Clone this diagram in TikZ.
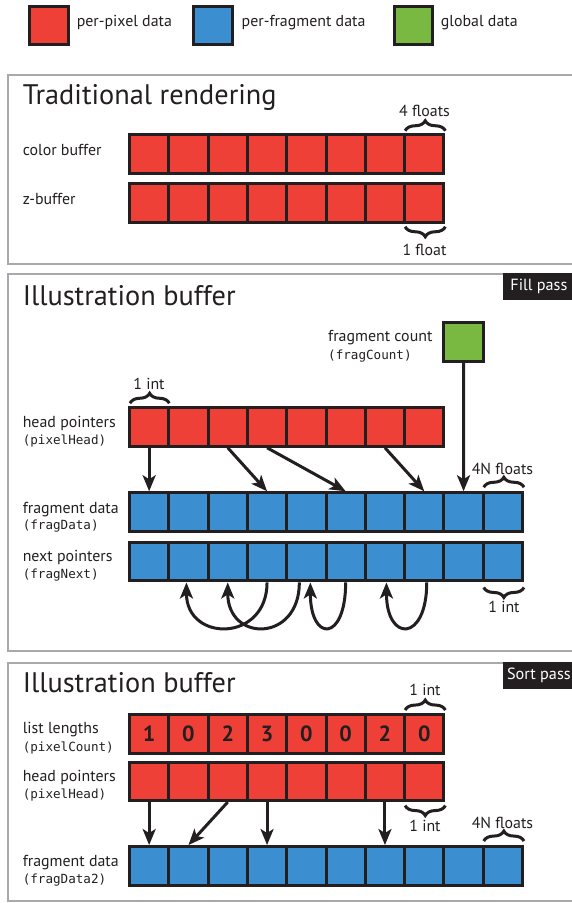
\documentclass[tikz,border=0pt]{standalone}
\usepackage{fontspec}
\setmainfont{PT Sans}
\setmonofont{DejaVu Sans Mono}
\usetikzlibrary{arrows.meta,decorations.pathreplacing,calc}
\definecolor{pxred}{HTML}{EE4036}
\definecolor{frblue}{HTML}{3B8FD0}
\definecolor{glgreen}{HTML}{7AB941}
\definecolor{ink}{HTML}{231F20}
\definecolor{framegray}{HTML}{A7A9AC}
\begin{document}
\begin{tikzpicture}[x=1pt,y=-1pt,
  cell/.style={draw=ink, line width=3pt, minimum width=39.3pt, minimum height=38.5pt, inner sep=0pt},
  pxcell/.style={cell, fill=pxred},
  frcell/.style={cell, fill=frblue},
  lbl/.style={anchor=base west, inner sep=0pt, text=ink, font=\fontsize{15.9}{18}\selectfont},
  code/.style={anchor=base west, inner sep=0pt, text=ink, font=\fontsize{12.6}{15}\selectfont\ttfamily},
  titletext/.style={anchor=base west, inner sep=0pt, text=ink, font=\fontsize{28.3}{32}\selectfont},
  note/.style={anchor=base, inner sep=0pt, text=ink, font=\fontsize{15.9}{18}\selectfont},
  ptr/.style={line width=3pt, draw=ink, -{Stealth[length=16pt,width=13pt,inset=4pt]}},
  brc/.style={draw=ink, line width=3pt, decorate, decoration={brace, amplitude=10pt}},
  frame/.style={draw=framegray, line width=2.5pt},
  passlabel/.style={fill=ink, text=white, anchor=north west, minimum width=72pt, minimum height=26.5pt, inner sep=0pt, font=\fontsize{16.2}{18}\selectfont},
]
\useasboundingbox (0,0) rectangle (572,903);
\clip (0,0) rectangle (572,903);

% legend
\node[pxcell, minimum width=38.5pt] (legred) at (49.2,25.5) {};
\node[lbl] (legredt) at (76.6,26.5) {per-pixel data};
\node[frcell, minimum width=38.5pt] (legblue) at (213,25.5) {};
\node[lbl] (legbluet) at (241.5,26.5) {per-fragment data};
\node[cell, fill=glgreen, minimum width=38.5pt] (leggreen) at (413.7,25.5) {};
\node[lbl] (leggreent) at (440.7,26.5) {global data};

% ---------- Section 1 ----------
\draw[frame] (7.8,75) rectangle (600,264);
\node[titletext] (t1) at (22.6,104) {Traditional rendering};
\foreach \i in {0,...,7} {
  \node[pxcell] (cb\i) at ({149.15+39.3*\i},154) {};
  \node[pxcell] (zb\i) at ({149.15+39.3*\i},203) {};
}
\node[lbl] (cbl) at (22.6,155) {color buffer};
\node[lbl] (zbl) at (22.6,204) {z-buffer};
\draw[brc] ($(cb7.north west)+(2,-2.5)$) -- ($(cb7.north east)+(0,-2.5)$);
\node[note] (fourf) at (424.5,116.7) {4 floats};
\draw[brc] ($(zb7.south east)+(0,3)$) -- ($(zb7.south west)+(2,3)$);
\node[note] (onef) at (424.5,255) {1 float};

% ---------- Section 2 ----------
\draw[frame] (7.8,274) rectangle (600,651);
\node[passlabel] (fillpass) at (502.7,272.8) {Fill pass};
\node[titletext] (t2) at (22.6,305) {Illustration buffer};

\node[cell, fill=glgreen] (fc) at (463.5,342) {};
\node[lbl] (fct) at (328,341) {fragment count};
\node[code] (fcc) at (328,359) {(fragCount)};

\foreach \i in {0,...,7} \node[pxcell] (hp\i) at ({149.15+39.3*\i},427) {};
\foreach \i in {0,...,9} {
  \node[frcell] (fd\i) at ({149.15+39.3*\i},512) {};
  \node[frcell] (fn\i) at ({149.15+39.3*\i},561.7) {};
}
\node[lbl] (hpl) at (22.6,427) {head pointers};
\node[code] (hpc) at (22.6,444) {(pixelHead)};
\node[lbl] (fdl) at (22.6,513) {fragment data};
\node[code] (fdc) at (22.6,529.5) {(fragData)};
\node[lbl] (fnl) at (22.6,561) {next pointers};
\node[code] (fnc) at (22.6,578) {(fragNext)};

\draw[brc] ($(hp0.north west)+(2,-3)$) -- ($(hp0.north east)+(-1,-3)$);
\node[note] (oneint1) at (149,389.3) {1 int};
\draw[brc] ($(fd9.north west)+(2,-4)$) -- ($(fd9.north east)+(0,-4)$);
\node[note] (fourn1) at (502.5,474) {4N floats};
\draw[brc] ($(fn9.south east)+(0,5)$) -- ($(fn9.south west)+(2,5)$);
\node[note] (oneint2) at (504,612.7) {1 int};

\draw[ptr] (hp0.south) -- (fd0.north);
\draw[ptr] (hp2.south) -- (fd3.north);
\draw[ptr] (hp3.south) -- (fd5.north);
\draw[ptr] (hp6.south) -- (fd7.north);
\draw[ptr] (fc.south) -- (fd8.north);

\draw[ptr] (fn3.south) .. controls +(0,60) and +(0,60) .. ([xshift=-2pt]fn1.south);
\draw[ptr] ([xshift=-7pt]fn4.south) .. controls +(0,60) and +(0,60) .. (fn2.south);
\draw[ptr] (fn5.south) .. controls +(0,60) and +(0,60) .. ([xshift=4pt]fn4.south);
\draw[ptr] ([xshift=2.5pt]fn7.south) .. controls +(0,60) and +(0,60) .. ([xshift=1.5pt]fn6.south);

% ---------- Section 3 ----------
\draw[frame] (7.8,663) rectangle (600,901);
\node[passlabel] (sortpass) at (502.7,662) {Sort pass};
\node[titletext] (t3) at (22.6,692.3) {Illustration buffer};

\foreach \i/\n in {0/1,1/0,2/2,3/3,4/0,5/0,6/2,7/0} {
  \node[pxcell, text=ink, font=\fontsize{22}{24}\selectfont\bfseries] (ll\i) at ({149.15+39.3*\i},733.8) {\n};
  \node[pxcell] (sh\i) at ({149.15+39.3*\i},781.3) {};
}
\foreach \i in {0,...,9} \node[frcell] (fe\i) at ({149.15+39.3*\i},865.8) {};

\node[lbl] (lll) at (22.6,733.5) {list lengths};
\node[code] (llc) at (22.6,751) {(pixelCount)};
\node[lbl] (shl) at (22.6,781) {head pointers};
\node[code] (shc) at (22.6,798) {(pixelHead)};
\node[lbl] (fel) at (22.6,866.5) {fragment data};
\node[code] (fec) at (22.6,883) {(fragData2)};

\draw[brc] ($(ll7.north west)+(2,-3)$) -- ($(ll7.north east)+(0,-3)$);
\node[note] (oneint3) at (425,695.7) {1 int};
\draw[brc] ($(sh7.south east)+(0,3.5)$) -- ($(sh7.south west)+(2,3.5)$);
\node[note] (oneint4) at (425,831) {1 int};
\draw[brc] ($(fe9.north west)+(2,-4)$) -- ($(fe9.north east)+(0,-4)$);
\node[note] (fourn2) at (502.5,828.3) {4N floats};

\draw[ptr] (sh0.south) -- (fe0.north);
\draw[ptr] (sh2.south) -- (fe1.north);
\draw[ptr] (sh3.south) -- (fe3.north);
\draw[ptr] (sh6.south) -- (fe6.north);
\end{tikzpicture}
\end{document}
